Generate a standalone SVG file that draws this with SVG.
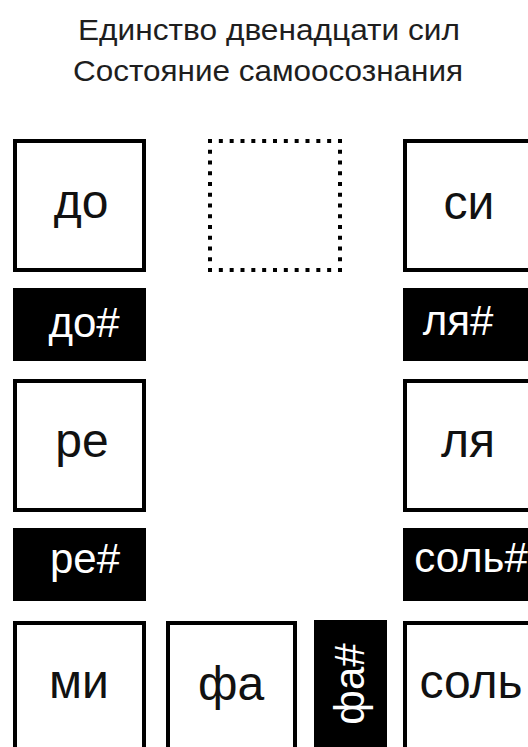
<svg xmlns="http://www.w3.org/2000/svg" width="528" height="747" viewBox="0 0 528 747">
  <style>
    .title { font-family: "Liberation Sans", Arial, sans-serif; font-size: 30px; fill: #1e1e1e; text-anchor: middle; }
    .box { fill: #ffffff; stroke: #000000; stroke-width: 4; }
    .sharp { fill: #000000; }
    .lbl { font-family: "Liberation Sans", Arial, sans-serif; font-size: 48px; fill: #111111; text-anchor: middle; }
    .slbl { font-family: "Liberation Sans", Arial, sans-serif; font-size: 42px; fill: #ffffff; text-anchor: middle; }
    .dots { stroke: #000000; stroke-width: 4; fill: none; }
  </style>
  <rect width="528" height="747" fill="#ffffff"/>

  <g id="title">
    <text class="title" x="269" y="40" textLength="382" lengthAdjust="spacingAndGlyphs">Единство двенадцати сил</text>
    <text class="title" x="268" y="81" textLength="390" lengthAdjust="spacingAndGlyphs">Состояние самоосознания</text>
  </g>

  <g id="connectors"></g>

  <g id="node-do">
    <rect class="box" x="15" y="141" width="129" height="129"/>
    <text class="lbl" x="81" y="218">до</text>
  </g>
  <g id="node-do-sharp">
    <rect class="sharp" x="13" y="288" width="133" height="73"/>
    <text class="slbl" x="84" y="337">до#</text>
  </g>
  <g id="node-re">
    <rect class="box" x="15" y="381" width="129" height="129"/>
    <text class="lbl" x="82" y="457">ре</text>
  </g>
  <g id="node-re-sharp">
    <rect class="sharp" x="13" y="528" width="133" height="73"/>
    <text class="slbl" x="85" y="573">ре#</text>
  </g>
  <g id="node-mi">
    <rect class="box" x="15" y="623" width="129" height="129"/>
    <text class="lbl" x="79" y="698">ми</text>
  </g>
  <g id="node-fa">
    <rect class="box" x="168" y="623" width="127" height="129"/>
    <text class="lbl" x="231" y="700">фа</text>
  </g>
  <g id="node-fa-sharp">
    <rect class="sharp" x="314" y="620" width="73" height="133"/>
    <text class="slbl" transform="translate(364,684) rotate(-90)" x="0" y="0">фа#</text>
  </g>
  <g id="node-sol">
    <rect class="box" x="405" y="623" width="129" height="129"/>
    <text class="lbl" x="471" y="698">соль</text>
  </g>
  <g id="node-sol-sharp">
    <rect class="sharp" x="403" y="528" width="133" height="73"/>
    <text class="slbl" x="471" y="572">соль#</text>
  </g>
  <g id="node-la">
    <rect class="box" x="405" y="381" width="129" height="129"/>
    <text class="lbl" x="468" y="457">ля</text>
  </g>
  <g id="node-la-sharp">
    <rect class="sharp" x="403" y="288" width="133" height="73"/>
    <text class="slbl" x="458" y="335">ля#</text>
  </g>
  <g id="node-si">
    <rect class="box" x="405" y="141" width="129" height="129"/>
    <text class="lbl" x="469" y="219">си</text>
  </g>
  <g id="node-empty">
    <line class="dots" x1="208" y1="141" x2="342" y2="141" stroke-dasharray="4 6.833"/>
    <line class="dots" x1="208" y1="270" x2="342" y2="270" stroke-dasharray="4 6.833"/>
    <line class="dots" x1="210" y1="139" x2="210" y2="272" stroke-dasharray="4 6.75"/>
    <line class="dots" x1="340" y1="139" x2="340" y2="272" stroke-dasharray="4 6.75"/>
  </g>
</svg>
